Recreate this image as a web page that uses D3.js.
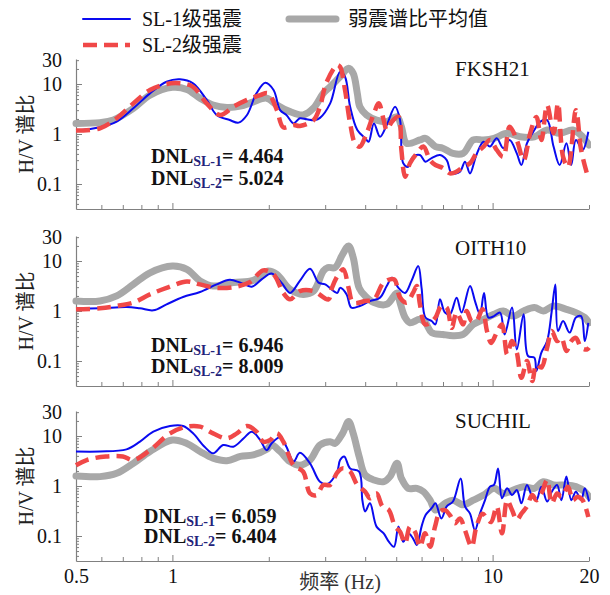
<!DOCTYPE html>
<html>
<head>
<meta charset="utf-8">
<script src="https://cdn.jsdelivr.net/npm/d3@7/dist/d3.min.js"></script>
<style>
  body { margin: 0; background: #fff; }
</style>
</head>
<body>
<svg id="chart" width="610" height="595"></svg>
<script>
// ---- data: H/V spectral ratio curves, [frequency (Hz), H/V] ----
const stations = ["FKSH21", "OITH10", "SUCHIL"];
const seriesNames = ["SL-1级强震", "SL-2级强震", "弱震谱比平均值"];
const dnlSL1 = ["4.464", "6.946", "6.059"];
const dnlSL2 = ["5.024", "8.009", "6.404"];

const xTickLabels = [0.5, 1, 10, 20];
const xMajorTicks = [1, 10];
const xMinorTicks = [0.6, 0.7, 0.8, 0.9, 2, 3, 4, 5, 6, 7, 8, 9, 20];
const yTickLabels = [0.1, 1, 10, 30];
const yMajorTicks = [0.1, 1, 10];
const yMinorTicks = [0.04, 0.05, 0.06, 0.07, 0.08, 0.09, 0.2, 0.3, 0.4, 0.5, 0.6, 0.7, 0.8, 0.9,
                     2, 3, 4, 5, 6, 7, 8, 9, 20, 30];

const fksh21Weak = [[0.5,1.63],[0.594,1.69],[0.654,1.91],[0.755,3.26],[0.851,6.0],[1.0,8.6],[1.11,7.8],[1.22,5.2],[1.34,3.8],[1.48,3.4],[1.63,3.6],[1.79,4.4],[1.97,5.2],[2.12,3.8],[2.33,2.8],[2.56,2.4],[2.76,3.3],[2.96,6.5],[3.11,8.8],[3.34,14],[3.55,20.6],[3.67,16.3],[3.78,6.5],[3.85,3.5],[4.04,2.4],[4.34,1.9],[4.67,1.77],[5.03,2.2],[5.19,1.4],[5.39,0.65],[5.93,0.76],[6.17,0.82],[6.63,0.56],[6.99,0.52],[7.52,0.41],[8.09,0.41],[8.70,0.76],[9.37,0.76],[10.1,0.82],[11.1,1.03],[12.2,0.88],[13.5,0.88],[14.8,1.2],[16.2,1.03],[17.8,1.2],[19.1,0.88],[20,0.6]];
const fksh21SL1 = [[0.5,1.17],[0.594,1.36],[0.67,1.77],[0.755,3.26],[0.851,6.5],[0.959,11.1],[1.056,12.4],[1.16,10.3],[1.28,4.8],[1.375,2.4],[1.51,1.9],[1.61,1.69],[1.71,2.4],[1.83,6.5],[1.95,10.6],[2.07,7.6],[2.17,3.0],[2.27,2.4],[2.39,1.63],[2.50,2.06],[2.63,1.97],[2.79,1.9],[2.89,2.1],[3.11,4.1],[3.34,17.7],[3.46,14],[3.59,3.5],[3.78,1.2],[4.0,0.82],[4.10,0.70],[4.26,1.63],[4.45,0.88],[4.67,1.51],[4.96,3.5],[5.14,1.9],[5.26,0.26],[5.45,0.22],[5.64,0.35],[5.93,0.38],[6.17,0.28],[6.45,0.33],[6.85,0.38],[7.19,0.30],[7.45,0.163],[7.91,0.177],[8.2,0.28],[8.5,0.163],[8.9,0.38],[9.37,0.70],[9.81,0.56],[10.3,0.82],[10.8,0.52],[11.3,0.76],[11.9,0.41],[12.3,0.24],[12.8,0.65],[13.5,1.2],[14.1,1.77],[14.8,1.9],[15.5,0.56],[16.2,0.24],[17.0,0.65],[17.6,0.24],[18.2,0.76],[19.1,0.48],[19.9,1.11]];
const fksh21SL2 = [[0.5,1.17],[0.594,1.3],[0.67,2.06],[0.755,4.1],[0.851,7.6],[0.959,10],[1.056,10.3],[1.16,8.8],[1.28,4.1],[1.41,2.4],[1.55,3.5],[1.71,4.8],[1.88,6.0],[1.99,6.5],[2.12,3.0],[2.22,1.36],[2.39,1.51],[2.50,1.45],[2.76,1.9],[2.89,3.5],[3.02,10.3],[3.27,24],[3.34,22],[3.46,7.6],[3.59,1.63],[3.72,0.65],[3.85,0.56],[4.04,1.03],[4.26,2.6],[4.41,4.1],[4.57,1.9],[4.67,1.2],[4.85,1.77],[5.08,2.2],[5.19,0.48],[5.33,0.14],[5.52,0.26],[5.8,0.41],[6.08,0.56],[6.38,0.30],[6.63,0.24],[6.99,0.21],[7.36,0.163],[7.72,0.177],[8.09,0.22],[8.5,0.26],[8.9,0.41],[9.37,0.56],[9.81,0.76],[10.3,0.48],[10.8,0.35],[11.3,1.4],[11.9,0.76],[12.5,0.30],[13.1,1.03],[13.7,2.2],[14.2,0.76],[14.8,3.8],[15.5,1.03],[16.0,4.1],[16.6,0.35],[17.2,0.22],[18.2,3.0],[18.9,0.48],[19.7,0.163]];

const oith10Weak = [[0.5,1.58],[0.594,1.58],[0.67,2.0],[0.755,3.4],[0.851,5.8],[1.0,7.9],[1.11,6.8],[1.22,4.0],[1.34,3.16],[1.55,3.7],[1.79,4.1],[1.99,6.3],[2.12,5.4],[2.33,2.7],[2.56,2.15],[2.76,2.5],[2.96,6.3],[3.06,7.4],[3.22,7.4],[3.40,13.6],[3.55,20],[3.67,11.7],[3.83,2.9],[4.0,2.0],[4.26,1.47],[4.67,1.36],[5.03,2.3],[5.14,1.47],[5.33,0.74],[5.52,0.58],[5.93,0.68],[6.17,0.58],[6.45,0.37],[6.99,0.34],[7.52,0.32],[8.09,0.34],[8.7,0.54],[9.37,0.68],[10.1,0.86],[10.8,1.0],[11.6,0.79],[12.5,1.0],[13.5,1.17],[14.4,1.0],[15.5,1.26],[17.0,1.08],[18.2,0.93],[19.4,0.74],[20,0.58]];
const oith10SL1 = [[0.5,1.11],[0.594,1.13],[0.719,1.2],[0.792,1.13],[0.872,1.03],[0.959,1.36],[1.08,1.9],[1.22,2.4],[1.375,3.4],[1.51,4.2],[1.63,3.7],[1.77,3.07],[1.90,4.3],[2.04,5.6],[2.19,3.7],[2.33,2.3],[2.50,4.0],[2.69,7.0],[2.86,3.7],[3.0,3.4],[3.27,2.3],[3.34,2.9],[3.5,2.15],[3.62,1.17],[3.85,1.26],[4.14,1.58],[4.45,1.85],[4.67,3.16],[4.85,4.6],[5.08,2.9],[5.33,2.3],[5.58,4.0],[5.86,7.9],[6.0,2.9],[6.17,0.74],[6.45,0.63],[6.63,0.54],[6.85,1.71],[7.1,0.93],[7.36,0.86],[7.72,1.85],[8.0,0.93],[8.5,3.16],[8.81,1.58],[9.13,0.86],[9.4,2.3],[9.7,0.74],[10.1,0.79],[10.55,0.93],[10.9,0.34],[11.5,1.17],[11.9,0.17],[12.5,0.86],[12.9,0.126],[13.5,0.117],[13.7,0.063],[14.2,0.147],[14.8,0.25],[15.3,1.0],[15.7,3.4],[16.0,0.40],[16.6,0.63],[17.4,0.37],[18.2,0.74],[18.9,0.79],[19.4,0.25],[19.9,0.58]];
const oith10SL2 = [[0.5,1.08],[0.594,1.13],[0.67,1.26],[0.755,1.47],[0.851,2.15],[0.959,2.9],[1.11,3.9],[1.22,3.4],[1.375,2.9],[1.55,3.0],[1.75,3.8],[1.92,6.5],[2.07,5.4],[2.22,2.3],[2.33,1.71],[2.50,2.5],[2.76,2.5],[3.07,1.71],[3.15,2.9],[3.30,5.4],[3.42,6.8],[3.55,2.9],[3.67,1.47],[4.0,1.58],[4.26,1.71],[4.57,3.7],[4.92,4.3],[5.14,1.85],[5.39,1.47],[5.64,2.3],[5.80,3.16],[5.93,1.36],[6.15,0.54],[6.38,0.58],[6.63,0.74],[6.92,1.26],[7.19,1.17],[7.45,0.46],[7.72,0.93],[8.09,0.54],[8.3,1.0],[8.6,0.63],[8.9,0.63],[9.3,1.08],[9.6,0.40],[9.9,0.23],[10.3,0.37],[10.7,0.54],[11.1,0.136],[11.5,0.25],[11.9,0.147],[12.3,0.046],[12.8,0.1],[13.3,0.04],[13.7,0.086],[14.2,0.074],[14.8,0.185],[15.3,0.40],[15.9,0.25],[16.4,0.29],[17.0,0.158],[17.6,0.25],[18.2,0.29],[18.9,0.185],[19.7,0.17],[20,0.185]];

const suchilWeak = [[0.5,1.58],[0.594,1.54],[0.67,1.79],[0.755,2.84],[0.851,4.9],[1.0,8.3],[1.11,7.1],[1.22,4.9],[1.34,3.6],[1.48,3.2],[1.63,3.9],[1.79,4.2],[1.97,5.4],[2.04,6.6],[2.17,4.9],[2.33,3.07],[2.50,2.6],[2.69,3.3],[2.89,6.6],[3.11,7.7],[3.22,7.1],[3.40,11.3],[3.55,19.4],[3.67,11.3],[3.83,3.9],[4.0,1.66],[4.26,1.32],[4.57,1.22],[4.78,1.54],[5.03,2.84],[5.19,1.42],[5.45,0.9],[5.80,0.9],[6.08,0.77],[6.38,0.52],[6.63,0.33],[7.1,0.45],[7.52,0.52],[8.09,0.42],[8.7,0.52],[9.37,0.66],[10.1,0.9],[10.8,0.71],[11.6,0.83],[12.5,0.97],[13.5,0.9],[14.4,1.22],[15.5,1.05],[17.0,1.05],[18.2,0.97],[19.4,0.77],[20,0.61]];
const suchilSL1 = [[0.5,4.9],[0.594,4.9],[0.719,5.4],[0.792,7.7],[0.872,12.2],[0.983,15.8],[1.08,15.8],[1.16,11.3],[1.26,6.1],[1.34,4.5],[1.44,6.6],[1.55,6.1],[1.67,9.0],[1.77,12.2],[1.88,8.3],[1.97,5.2],[2.04,7.1],[2.17,9.4],[2.27,6.1],[2.39,3.07],[2.50,4.6],[2.69,2.84],[2.89,1.22],[3.05,1.1],[3.27,1.94],[3.34,3.3],[3.44,3.9],[3.59,2.25],[3.83,1.94],[3.92,0.52],[4.0,0.31],[4.14,0.45],[4.34,0.154],[4.57,0.113],[4.74,0.077],[4.92,0.061],[5.08,0.154],[5.26,0.077],[5.45,0.113],[5.64,0.09],[5.80,0.066],[6.0,0.154],[6.17,0.26],[6.45,0.36],[6.63,0.45],[6.92,0.225],[7.19,0.39],[7.52,0.49],[7.95,1.42],[8.2,0.39],[8.5,0.28],[8.81,0.13],[9.13,0.28],[9.47,0.52],[9.81,0.97],[10.1,1.05],[10.4,2.25],[10.7,0.57],[11.1,0.9],[11.5,0.66],[11.9,0.83],[12.3,0.45],[12.8,1.05],[13.3,0.61],[13.7,0.52],[14.2,0.97],[14.8,0.49],[15.3,0.77],[15.9,1.05],[16.4,0.52],[17.0,1.54],[17.6,0.52],[18.2,0.77],[18.9,0.52],[19.4,0.9],[20,0.49]];
const suchilSL2 = [[0.5,2.6],[0.54,3.3],[0.62,3.9],[0.70,3.9],[0.755,3.3],[0.851,5.2],[0.983,11.3],[1.11,15.4],[1.22,15.4],[1.34,11.3],[1.48,9.0],[1.59,11.3],[1.71,15.8],[1.83,12.2],[1.92,7.7],[2.02,8.3],[2.12,11.3],[2.22,7.7],[2.39,2.6],[2.56,1.94],[2.69,0.71],[2.82,0.66],[2.96,1.05],[3.11,1.05],[3.27,1.85],[3.40,2.25],[3.59,1.94],[3.78,1.05],[4.0,0.77],[4.14,0.57],[4.34,0.71],[4.53,0.39],[4.74,0.33],[4.96,0.154],[5.14,0.122],[5.33,0.071],[5.52,0.154],[5.72,0.122],[5.93,0.061],[6.15,0.113],[6.38,0.061],[6.61,0.154],[6.85,0.31],[7.1,0.33],[7.36,0.26],[7.63,0.18],[7.91,0.225],[8.2,0.13],[8.6,0.061],[8.9,0.154],[9.3,0.28],[9.6,0.225],[9.9,0.19],[10.3,0.39],[10.7,0.113],[11.1,0.52],[11.5,0.33],[11.9,0.21],[12.3,0.28],[12.8,0.39],[13.3,0.66],[13.7,0.52],[14.2,0.71],[14.8,1.32],[15.3,0.45],[15.9,0.71],[16.4,0.61],[17.2,0.97],[17.8,0.52],[18.4,0.61],[19.1,0.52],[19.9,0.24]];

const weakCurves = [fksh21Weak, oith10Weak, suchilWeak];
const sl1Curves = [fksh21SL1, oith10SL1, suchilSL1];
const sl2Curves = [fksh21SL2, oith10SL2, suchilSL2];

// ---- layout & styles ----
const W = 610, H = 595;
const left = 76, right = 589, panelH = 150;
const panelTops = [59, 236, 411];
const stationBaselines = [76, 255, 428];
const dnlPos = [[151, 163, 185], [151, 352, 373], [144, 523, 543]];
const colBlue = "#0a0af0", colRed = "#f04848", colGray = "#a8a8a8";
const axisCol = "#808080", textCol = "#111";
const redDash = "14,7";
const SERIF = '"Liberation Serif", "Times New Roman", serif';
const CJK = '"Noto Sans CJK SC", "Noto Sans CJK JP", sans-serif';

// writes mixed Latin/CJK text as runs so each script gets its own face
function richText(sel, str) {
  const runs = str.match(/[\u3400-\u9fff]+|[^\u3400-\u9fff]+/g) || [];
  runs.forEach(r => {
    sel.append("tspan")
      .style("font-family", /[\u3400-\u9fff]/.test(r) ? CJK : SERIF)
      .text(r);
  });
  return sel;
}

const svg = d3.select("#chart");
svg.append("rect").attr("width", W).attr("height", H).attr("fill", "#fff");

const x = d3.scaleLog().domain([0.5, 20]).range([left, right]);

const line = (y) => d3.line()
  .x(d => x(d[0])).y(d => y(d[1]))
  .curve(d3.curveCatmullRom.alpha(0.5));

panelTops.forEach((top, i) => {
  const y = d3.scaleLog().domain([Math.pow(10, -1.5), Math.pow(10, 1.5)]).range([top + panelH, top]);
  const g = svg.append("g");

  // clip region for the curves
  const cid = "clip" + i;
  svg.append("clipPath").attr("id", cid).append("rect")
    .attr("x", left - 6).attr("y", top).attr("width", right - left + 8).attr("height", panelH);

  // y axis: labelled majors, minors
  const yAxis = g.append("g").attr("transform", `translate(${left},0)`)
    .call(d3.axisLeft(y).tickValues(yTickLabels).tickFormat(d => String(d))
      .tickSizeInner(0).tickSizeOuter(0).tickPadding(14));
  yAxis.select(".domain").attr("stroke", axisCol).attr("stroke-width", 1.2);
  yAxis.selectAll("text").attr("fill", textCol)
    .style("font-family", SERIF).style("font-size", "20px");
  g.append("g").attr("transform", `translate(${left},0)`)
    .call(d3.axisLeft(y).tickValues(yMajorTicks).tickFormat("").tickSizeInner(-6).tickSizeOuter(0))
    .call(a => a.select(".domain").remove())
    .selectAll("line").attr("stroke", axisCol);
  g.append("g").attr("transform", `translate(${left},0)`)
    .call(d3.axisLeft(y).tickValues(yMinorTicks).tickFormat("").tickSizeInner(-3).tickSizeOuter(0))
    .call(a => a.select(".domain").remove())
    .selectAll("line").attr("stroke", axisCol);

  // x axis
  const xAxis = g.append("g").attr("transform", `translate(0,${top + panelH})`)
    .call(d3.axisBottom(x).tickValues(i === 2 ? xTickLabels : []).tickFormat(d => String(d))
      .tickSizeInner(0).tickSizeOuter(0).tickPadding(8));
  xAxis.select(".domain").attr("stroke", axisCol).attr("stroke-width", 1.2);
  xAxis.selectAll("text").attr("fill", textCol)
    .style("font-family", SERIF).style("font-size", "20px");
  g.append("g").attr("transform", `translate(0,${top + panelH})`)
    .call(d3.axisBottom(x).tickValues(xMajorTicks).tickFormat("").tickSizeInner(-6).tickSizeOuter(0))
    .call(a => a.select(".domain").remove())
    .selectAll("line").attr("stroke", axisCol);
  g.append("g").attr("transform", `translate(0,${top + panelH})`)
    .call(d3.axisBottom(x).tickValues(xMinorTicks).tickFormat("").tickSizeInner(-4).tickSizeOuter(0))
    .call(a => a.select(".domain").remove())
    .selectAll("line").attr("stroke", axisCol);

  // curves
  const cg = g.append("g").attr("clip-path", `url(#${cid})`);
  cg.append("path").datum(weakCurves[i]).attr("d", line(y))
    .attr("fill", "none").attr("stroke", colGray).attr("stroke-width", 7)
    .attr("stroke-linejoin", "round").attr("stroke-linecap", "round");
  cg.append("path").datum(sl1Curves[i]).attr("d", line(y))
    .attr("fill", "none").attr("stroke", colBlue).attr("stroke-width", 2)
    .attr("stroke-linejoin", "round");
  cg.append("path").datum(sl2Curves[i]).attr("d", line(y))
    .attr("fill", "none").attr("stroke", colRed).attr("stroke-width", 4.5)
    .attr("stroke-dasharray", redDash).attr("stroke-linejoin", "round");

  // y label
  richText(g.append("text")
    .attr("transform", `translate(33,${top + panelH / 2}) rotate(-90)`)
    .attr("text-anchor", "middle").attr("fill", "#222")
    .style("font-size", "20px"), "H/V 谱比");

  // station
  g.append("text").attr("x", 455).attr("y", stationBaselines[i])
    .attr("fill", textCol).style("font-family", SERIF).style("font-size", "21px").text(stations[i]);

  // DNL values
  const [dx, dy1, dy2] = dnlPos[i];
  [[dnlSL1[i], "SL-1", dy1], [dnlSL2[i], "SL-2", dy2]].forEach(([val, sub, yy]) => {
    const t = g.append("text").attr("x", dx).attr("y", yy)
      .attr("fill", textCol).style("font-family", SERIF)
      .style("font-weight", "bold").style("font-size", "20px");
    t.append("tspan").text("DNL");
    t.append("tspan").attr("dy", 3).style("font-size", "14px").attr("fill", "#22227a").text(sub);
    t.append("tspan").attr("dy", -3).text("= " + val);
  });
});

// x axis title
richText(svg.append("text").attr("x", 340).attr("y", 589).attr("text-anchor", "middle")
  .attr("fill", "#333").style("font-size", "20px"), "频率 (Hz)");

// legend
const legend = svg.append("g");
const legendItems = [
  { name: seriesNames[0], x: 83, y: 19, color: colBlue, w: 2, dash: null },
  { name: seriesNames[1], x: 83, y: 45, color: colRed, w: 4.5, dash: redDash },
  { name: seriesNames[2], x: 289, y: 19, color: colGray, w: 7, dash: null }
];
legendItems.forEach(it => {
  legend.append("line").attr("x1", it.x).attr("x2", it.x + 47).attr("y1", it.y).attr("y2", it.y)
    .attr("stroke", it.color).attr("stroke-width", it.w)
    .attr("stroke-dasharray", it.dash).attr("stroke-linecap", it.dash ? "butt" : "round");
  richText(legend.append("text").attr("x", it.x + 59).attr("y", it.y).attr("dy", "0.35em")
    .attr("fill", textCol).style("font-size", "20px"), it.name);
});
</script>
</body>
</html>
